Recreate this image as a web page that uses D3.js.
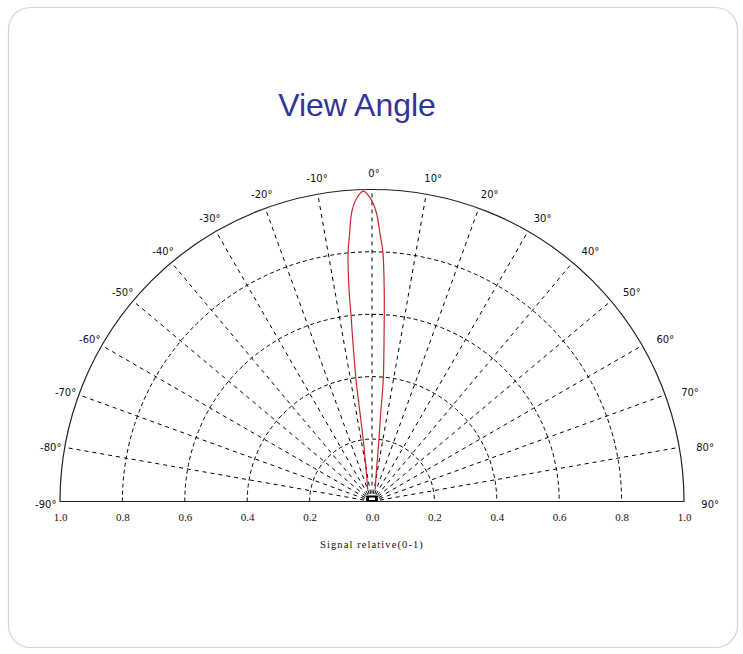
<!DOCTYPE html>
<html>
<head>
<meta charset="utf-8">
<script src="https://cdn.jsdelivr.net/npm/d3@7"></script>
<style>
  body { margin: 0; background: #fff; }
  svg { display: block; }
</style>
</head>
<body>
<div id="chart"></div>
<script>
// angle grid (degrees, 0 = straight up, positive = right)
const angleTicks = [-90, -80, -70, -60, -50, -40, -30, -20, -10, 0, 10, 20, 30, 40, 50, 60, 70, 80, 90];
// dashed rings (relative signal)
const ringValues = [0.2, 0.4, 0.6, 0.8];
// bottom axis ticks
const xTicks = [-1, -0.8, -0.6, -0.4, -0.2, 0, 0.2, 0.4, 0.6, 0.8, 1];

// beam pattern: angle (deg) and relative signal
const lobeAngles = [-20, -12, -8.3, -7.7, -7.5, -6.9, -6.4, -6.2, -5.5, -4.8, -4.0, -3.0, -1.6,
  -0.1, 0.9, 1.7, 2.5, 3.3, 3.7, 4.4, 5.3, 5.6, 6.6, 9.2, 15];
const lobeValues = [0.04, 0.08, 0.18, 0.29, 0.39, 0.50, 0.61, 0.68, 0.80, 0.86, 0.93, 0.97, 0.995,
  0.966, 0.924, 0.86, 0.80, 0.68, 0.61, 0.50, 0.39, 0.29, 0.18, 0.08, 0.04];

const width = 743,
  height = 654;
const cx = 372,
  cy = 501.5,
  R = 312;

const svg = d3.select("#chart").append("svg").attr("width", width).attr("height", height);

// slide frame
svg.append("rect")
  .attr("x", 8.5).attr("y", 7.5)
  .attr("width", 729).attr("height", 640)
  .attr("rx", 22)
  .attr("fill", "#fff")
  .attr("stroke", "#d4d4d4")
  .attr("stroke-width", 1.2);

svg.append("text")
  .attr("x", 357).attr("y", 116)
  .attr("text-anchor", "middle")
  .attr("font-family", "Liberation Sans, Arial, sans-serif")
  .attr("font-size", 32)
  .attr("fill", "#333399")
  .text("View Angle");

const r = d3.scaleLinear().domain([0, 1]).range([0, R]);
const x = d3.scaleLinear().domain([-1, 1]).range([cx - R, cx + R]);
const rad = d => d * Math.PI / 180;

const g = svg.append("g");

// dashed rings
g.selectAll(".ring")
  .data(ringValues)
  .join("path")
  .attr("class", "ring")
  .attr("d", v => {
    const p = d3.path();
    p.arc(cx, cy, r(v), Math.PI, 2 * Math.PI);
    return p.toString();
  })
  .attr("fill", "none")
  .attr("stroke", "#000")
  .attr("stroke-width", 1)
  .attr("stroke-dasharray", "4,3");

// dashed spokes
g.selectAll(".spoke")
  .data(angleTicks.filter(a => Math.abs(a) < 90))
  .join("line")
  .attr("class", "spoke")
  .attr("x1", cx).attr("y1", cy)
  .attr("x2", a => cx + r(1) * Math.sin(rad(a)))
  .attr("y2", a => cy - r(1) * Math.cos(rad(a)))
  .attr("stroke", "#000")
  .attr("stroke-width", 1)
  .attr("stroke-dasharray", "4,4");

// outer arc + baseline
const outer = d3.path();
outer.moveTo(cx - R, cy);
outer.arc(cx, cy, R, Math.PI, 2 * Math.PI);
outer.closePath();
g.append("path")
  .attr("d", outer.toString())
  .attr("fill", "none")
  .attr("stroke", "#222")
  .attr("stroke-width", 1.2);

// angle labels
g.selectAll(".alabel")
  .data(angleTicks)
  .join("text")
  .attr("class", "alabel")
  .attr("x", a => cx + r(1.052) * Math.sin(rad(a)) + (a > 0 ? 3 + 7 * Math.sin(rad(a)) : 2))
  .attr("y", a => cy - r(1.052) * Math.cos(rad(a)) + 3 * Math.abs(Math.sin(rad(a))))
  .attr("text-anchor", "middle")
  .attr("dominant-baseline", "central")
  .attr("font-family", "DejaVu Sans, Verdana, sans-serif")
  .attr("font-size", 10)
  .attr("fill", "#111")
  .text(a => a + "\u00b0");

// bottom axis labels
const axis = d3.axisBottom(x)
  .tickValues(xTicks)
  .tickSize(0)
  .tickPadding(0)
  .tickFormat(d => Math.abs(d).toFixed(1));
const ax = svg.append("g").attr("transform", `translate(0,${cy + 12})`).call(axis);
ax.select(".domain").remove();
ax.selectAll("text")
  .attr("font-family", "Liberation Serif, Times New Roman, serif")
  .attr("font-size", 11)
  .attr("fill", "#111");

svg.append("text")
  .attr("x", cx).attr("y", 548)
  .attr("text-anchor", "middle")
  .attr("font-family", "Liberation Serif, Times New Roman, serif")
  .attr("font-size", 10.5)
  .attr("letter-spacing", 1.1)
  .attr("fill", "#111")
  .text("Signal relative(0-1)");

// beam lobe
const lobe = d3.lineRadial()
  .angle((d, i) => rad(lobeAngles[i]))
  .radius(d => r(d))
  .curve(d3.curveCatmullRom);
g.append("path")
  .datum(lobeValues)
  .attr("transform", `translate(${cx},${cy})`)
  .attr("d", lobe)
  .attr("fill", "none")
  .attr("stroke", "#c8282d")
  .attr("stroke-width", 1.2);

// emitter symbol at the origin
g.append("rect")
  .attr("x", cx - 6).attr("y", cy - 6)
  .attr("width", 12).attr("height", 6)
  .attr("rx", 1.5)
  .attr("fill", "#000");
g.append("rect")
  .attr("x", cx - 3).attr("y", cy - 4)
  .attr("width", 6).attr("height", 2.5)
  .attr("fill", "#fff");
</script>
</body>
</html>
